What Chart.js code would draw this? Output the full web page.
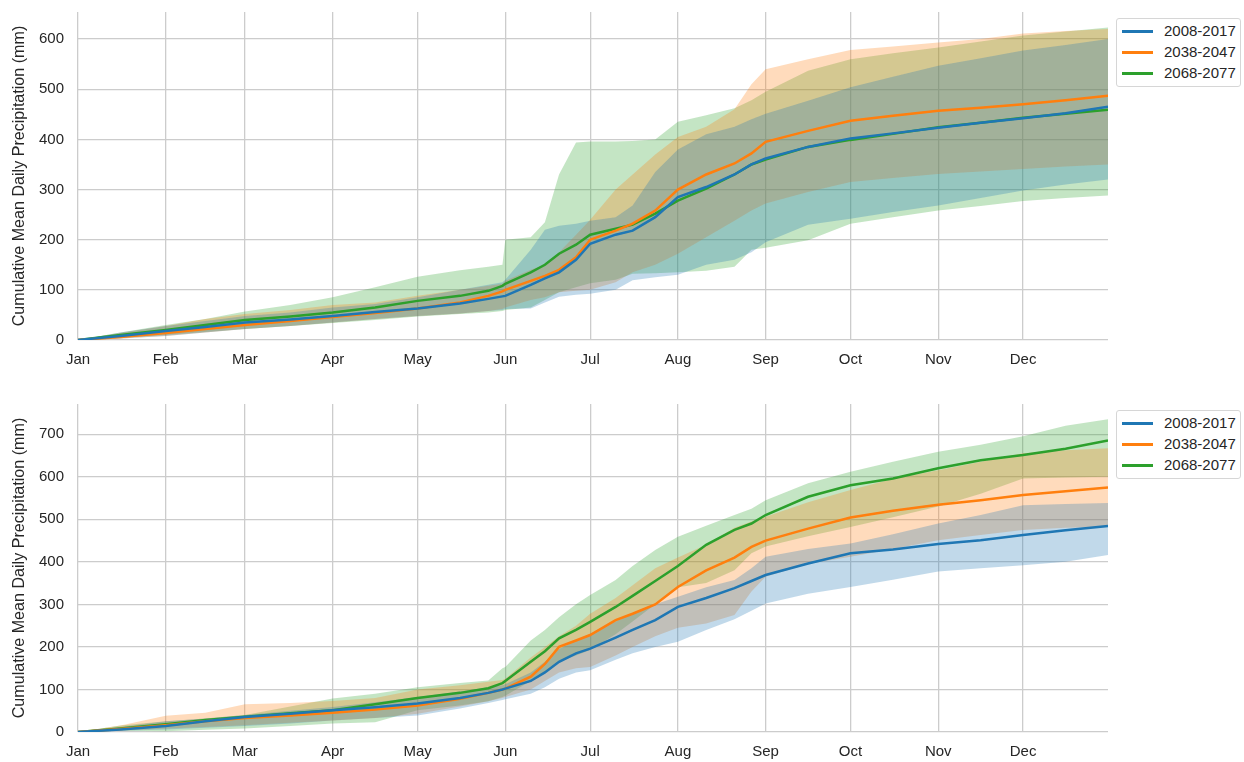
<!DOCTYPE html>
<html>
<head>
<meta charset="utf-8">
<script src="https://cdn.jsdelivr.net/npm/chart.js@4.4.1/dist/chart.umd.min.js"></script>
<style>
  html, body { margin: 0; padding: 0; background: #ffffff; }
  #page { position: relative; width: 1244px; height: 762px; font-family: "Liberation Sans", Arial, sans-serif; }
  .panel { position: absolute; left: 0; width: 1244px; height: 381px; }
  .legend { position: absolute; left: 1116px; width: 123px; height: 67px; border: 1px solid #d6d6d6; border-radius: 3px; background: #ffffff; }
  .legend .item { position: absolute; left: 0; width: 123px; height: 20px; }
  .legend .swatch { position: absolute; left: 5px; top: 9px; width: 31px; height: 2.5px; }
  .legend .text { position: absolute; left: 47px; top: 0; line-height: 20px; font-size: 15px; color: #262626; white-space: nowrap; }
</style>
</head>
<body>
<div id="page">
  <div class="panel" style="top:0px"><canvas id="topChart"></canvas></div>
  <div class="panel" style="top:381px"><canvas id="bottomChart"></canvas></div>
  <div class="legend" id="topLegend" style="top:18px"></div>
  <div class="legend" id="bottomLegend" style="top:410px"></div>
</div>
<script>
// day of year for every sample
const days = [0, 15, 31, 45, 59, 75, 90, 105, 120, 135, 145, 150, 151, 160, 165, 170, 176, 181, 190, 196, 204, 212, 222, 232, 238, 243, 258, 273, 288, 304, 319, 334, 349, 364];
const monthDays = [0, 31, 59, 90, 120, 151, 181, 212, 243, 273, 304, 334];
const monthLabels = ['Jan', 'Feb', 'Mar', 'Apr', 'May', 'Jun', 'Jul', 'Aug', 'Sep', 'Oct', 'Nov', 'Dec'];
const seriesLabels = ['2008-2017', '2038-2047', '2068-2077'];
const topYTicks = [0, 100, 200, 300, 400, 500, 600];
const bottomYTicks = [0, 100, 200, 300, 400, 500, 600, 700];
const yTitle = 'Cumulative Mean Daily Precipitation (mm)';

// top panel
const topMean2008 = [0, 8, 18, 26, 35, 41, 48, 56, 63, 73, 82, 87, 88, 110, 123, 135, 160, 192, 210, 218, 245, 285, 305, 330, 350, 362, 385, 402, 412, 423, 433, 442, 452, 465];
const topLow2008 = [0, 3, 8, 15, 22, 28, 35, 42, 48, 53, 58, 60, 62, 63, 75, 86, 90, 92, 100, 119, 125, 130, 150, 160, 175, 195, 230, 242, 255, 268, 283, 298, 310, 320];
const topHigh2008 = [0, 15, 28, 38, 48, 55, 65, 72, 85, 100, 110, 115, 120, 180, 220, 228, 232, 238, 245, 268, 335, 380, 410, 425, 440, 451, 477, 504, 525, 547, 562, 577, 588, 600];
const topMean2038 = [0, 6, 14, 22, 30, 38, 46, 54, 63, 75, 88, 97, 100, 118, 128, 140, 165, 200, 218, 232, 258, 300, 330, 352, 372, 395, 417, 437, 447, 457, 463, 470, 478, 487];
const topLow2038 = [0, 3, 8, 15, 22, 28, 35, 42, 48, 53, 58, 62, 65, 80, 85, 95, 98, 100, 115, 135, 150, 172, 205, 238, 258, 272, 295, 315, 323, 331, 336, 341, 346, 350];
const topHigh2038 = [0, 14, 28, 42, 52, 60, 70, 75, 88, 100, 108, 112, 118, 140, 150, 175, 210, 240, 300, 330, 370, 405, 425, 460, 510, 540, 560, 578, 585, 593, 600, 611, 616, 620];
const topMean2068 = [0, 10, 20, 30, 40, 47, 55, 65, 78, 88, 98, 108, 112, 135, 150, 172, 190, 210, 222, 230, 252, 278, 302, 330, 350, 360, 385, 399, 411, 424, 433, 443, 451, 459];
const topLow2068 = [0, 5, 10, 16, 22, 28, 34, 40, 47, 52, 55, 58, 60, 65, 80, 95, 105, 113, 120, 132, 133, 135, 138, 146, 180, 184, 199, 232, 245, 258, 267, 277, 283, 288];
const topHigh2068 = [0, 15, 30, 42, 57, 70, 85, 105, 126, 139, 146, 150, 200, 205, 235, 330, 394, 396, 396, 397, 400, 435, 448, 462, 478, 495, 537, 560, 572, 583, 595, 607, 615, 623];

// bottom panel
const botMean2008 = [0, 6, 14, 25, 35, 43, 51, 58, 67, 80, 92, 100, 102, 120, 140, 165, 185, 196, 222, 240, 263, 294, 315, 338, 355, 369, 396, 420, 429, 442, 451, 463, 474, 484];
const botLow2008 = [0, 3, 6, 10, 14, 20, 27, 33, 39, 55, 68, 75, 77, 90, 105, 125, 140, 145, 170, 185, 200, 212, 240, 265, 285, 302, 325, 341, 358, 377, 385, 392, 400, 416];
const botHigh2008 = [0, 12, 25, 32, 40, 50, 59, 70, 82, 95, 105, 110, 112, 140, 165, 195, 215, 231, 260, 280, 300, 318, 340, 357, 385, 412, 430, 443, 465, 490, 510, 533, 536, 538];
const botMean2038 = [0, 7, 16, 25, 33, 39, 45, 53, 62, 78, 92, 100, 102, 130, 160, 200, 215, 228, 263, 278, 300, 341, 380, 410, 435, 450, 478, 504, 520, 534, 545, 557, 566, 575];
const botLow2038 = [0, 3, 8, 12, 16, 22, 27, 33, 43, 60, 72, 80, 82, 100, 120, 140, 150, 153, 180, 200, 225, 245, 255, 275, 330, 365, 395, 412, 430, 451, 463, 475, 480, 482];
const botHigh2038 = [0, 15, 38, 45, 65, 68, 73, 80, 100, 110, 118, 122, 125, 175, 200, 225, 250, 278, 315, 345, 385, 410, 440, 480, 495, 506, 540, 569, 595, 615, 635, 655, 662, 667];
const botMean2068 = [0, 8, 18, 28, 36, 44, 51, 65, 80, 92, 103, 115, 120, 165, 190, 220, 240, 259, 294, 320, 355, 390, 440, 475, 490, 510, 553, 580, 596, 620, 639, 651, 666, 685];
const botLow2068 = [0, 3, 2, 5, 8, 14, 20, 23, 51, 62, 72, 82, 85, 120, 140, 165, 180, 193, 230, 260, 300, 340, 350, 380, 420, 436, 460, 482, 505, 530, 560, 596, 598, 600];
const botHigh2068 = [0, 15, 25, 32, 40, 60, 79, 90, 105, 115, 121, 150, 153, 215, 240, 270, 300, 322, 357, 390, 428, 459, 485, 510, 525, 545, 585, 612, 635, 659, 675, 695, 720, 735];

const lineColors = ['#1f77b4', '#ff7f0e', '#2ca02c'];
const fillColors = ['rgba(31, 119, 180, 0.28)', 'rgba(255, 127, 14, 0.28)', 'rgba(44, 160, 44, 0.28)'];
const textColor = '#262626';
const gridColor = '#cccccc';

Chart.defaults.font.family = '"Liberation Sans", Arial, sans-serif';
Chart.defaults.color = textColor;

function toPoints(values) {
  return values.map((v, i) => ({ x: days[i], y: v }));
}

function buildDatasets(groups) {
  const bands = [];
  const lines = [];
  groups.forEach((g, i) => {
    bands.push({
      label: seriesLabels[i] + ' max',
      data: toPoints(g.high),
      borderWidth: 0,
      pointRadius: 0,
      backgroundColor: fillColors[i],
      fill: '+1',
      order: 2,
    });
    bands.push({
      label: seriesLabels[i] + ' min',
      data: toPoints(g.low),
      borderWidth: 0,
      pointRadius: 0,
      fill: false,
      order: 2,
    });
    lines.push({
      label: seriesLabels[i],
      data: toPoints(g.mean),
      borderColor: lineColors[i],
      borderWidth: 2.5,
      pointRadius: 0,
      fill: false,
      order: 1,
    });
  });
  return bands.concat(lines);
}

function makeChart(canvasId, groups, yMax, yTicks, padTop, xAxisHeight) {
  const ctx = document.getElementById(canvasId).getContext('2d');
  return new Chart(ctx, {
    type: 'line',
    data: { datasets: buildDatasets(groups) },
    options: {
      responsive: true,
      maintainAspectRatio: false,
      devicePixelRatio: 1,
      animation: false,
      layout: { autoPadding: false, padding: { top: padTop, right: 136, left: 0, bottom: 0 } },
      plugins: {
        legend: { display: false },
        tooltip: { enabled: false },
      },
      scales: {
        x: {
          type: 'linear',
          min: 0,
          max: 364,
          afterBuildTicks: (scale) => { scale.ticks = monthDays.map((v) => ({ value: v })); },
          afterFit: (scale) => {
            scale.height = xAxisHeight;
            scale.paddingLeft = 0;
            scale.paddingRight = 0;
          },
          ticks: {
            autoSkip: false,
            maxRotation: 0,
            padding: 11,
            font: { size: 15 },
            color: textColor,
            callback: (value) => monthLabels[monthDays.indexOf(value)],
          },
          grid: { color: gridColor, lineWidth: 1.3, drawTicks: false },
          border: { display: false },
        },
        y: {
          min: 0,
          max: yMax,
          afterBuildTicks: (scale) => { scale.ticks = yTicks.map((v) => ({ value: v })); },
          afterFit: (scale) => {
            scale.width = 78;
            scale.paddingTop = 0;
            scale.paddingBottom = 0;
          },
          ticks: { padding: 14, font: { size: 15 }, color: textColor },
          grid: { color: gridColor, lineWidth: 1.3, drawTicks: false },
          border: { display: false },
          title: {
            display: true,
            text: yTitle,
            font: { size: 16.1 },
            color: textColor,
            padding: { top: 10, bottom: 0 },
          },
        },
      },
    },
  });
}

function buildLegend(id) {
  const box = document.getElementById(id);
  seriesLabels.forEach((label, i) => {
    const item = document.createElement('div');
    item.className = 'item';
    item.style.top = (2 + i * 21) + 'px';
    const swatch = document.createElement('div');
    swatch.className = 'swatch';
    swatch.style.background = lineColors[i];
    const text = document.createElement('div');
    text.className = 'text';
    text.textContent = label;
    item.appendChild(swatch);
    item.appendChild(text);
    box.appendChild(item);
  });
}

makeChart('topChart', [
  { mean: topMean2008, low: topLow2008, high: topHigh2008 },
  { mean: topMean2038, low: topLow2038, high: topHigh2038 },
  { mean: topMean2068, low: topLow2068, high: topHigh2068 },
], 654, topYTicks, 12, 41);

makeChart('bottomChart', [
  { mean: botMean2008, low: botLow2008, high: botHigh2008 },
  { mean: botMean2038, low: botLow2038, high: botHigh2038 },
  { mean: botMean2068, low: botLow2068, high: botHigh2068 },
], 771, bottomYTicks, 23, 30);

buildLegend('topLegend');
buildLegend('bottomLegend');
</script>
</body>
</html>
